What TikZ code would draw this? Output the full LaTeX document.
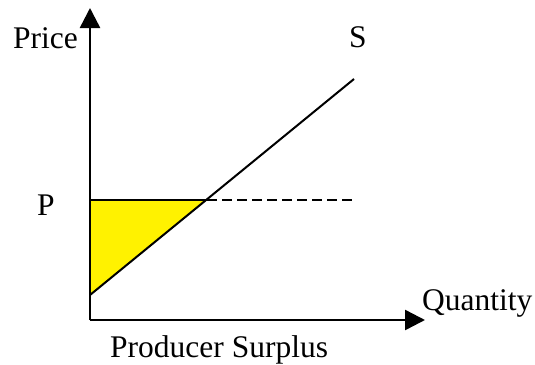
\documentclass[tikz,border=0pt]{standalone}
\usepackage{fontspec}
\setmainfont{Liberation Serif}
\usetikzlibrary{arrows.meta}
\begin{document}
\begin{tikzpicture}[x=1pt,y=-1pt,
  lbl/.style={anchor=base west,inner sep=0pt,font=\fontsize{31.5}{36}\selectfont},
  axis/.style={line width=2.5pt,-{Triangle[length=20pt,width=20pt]}},
  curve/.style={line width=2pt}]
\useasboundingbox (0,0) rectangle (535,364);
\coordinate (O) at (90,320);
\coordinate (ytip) at (90,8);
\coordinate (xtip) at (425,320);
\coordinate (S0) at (90,295);
\coordinate (E) at (207,200);
\coordinate (S1) at (354,79);
\coordinate (PL) at (90,200);
\coordinate (D1) at (354,200);
\fill[yellow] (PL) -- (E) -- (S0) -- cycle;
\draw[curve] (PL) -- (E);
\draw[curve,dash pattern=on 10pt off 5pt] (E) -- (D1);
\draw[curve] (S0) -- (S1);
\draw[axis] (O) -- (ytip);
\draw[axis] (O) -- (xtip);
\node[lbl] (price) at (13,48) {Price};
\node[lbl] (s) at (349,47) {S};
\node[lbl] (p) at (37,215) {P};
\node[lbl] (q) at (422,310) {Quantity};
\node[lbl] (ps) at (110,357) {Producer Surplus};
\end{tikzpicture}
\end{document}
